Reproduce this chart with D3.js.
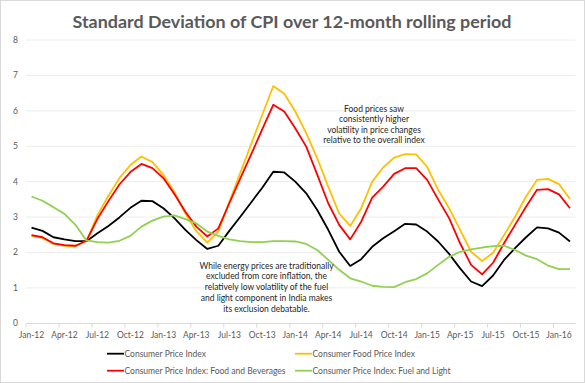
<!DOCTYPE html>
<html><head><meta charset="utf-8">
<script src="https://cdn.jsdelivr.net/npm/d3@7"></script>
<style>body{margin:0;background:#fff}svg{display:block}text{font-family:Lato,"Open Sans",sans-serif}</style>
</head><body><svg id="c" width="585" height="383"></svg>
<script>
const months = ["Jan-12","Feb-12","Mar-12","Apr-12","May-12","Jun-12","Jul-12","Aug-12","Sep-12","Oct-12","Nov-12","Dec-12",
"Jan-13","Feb-13","Mar-13","Apr-13","May-13","Jun-13","Jul-13","Aug-13","Sep-13","Oct-13","Nov-13","Dec-13",
"Jan-14","Feb-14","Mar-14","Apr-14","May-14","Jun-14","Jul-14","Aug-14","Sep-14","Oct-14","Nov-14","Dec-14",
"Jan-15","Feb-15","Mar-15","Apr-15","May-15","Jun-15","Jul-15","Aug-15","Sep-15","Oct-15","Nov-15","Dec-15",
"Jan-16","Feb-16"];
const cpi = [2.70,2.61,2.43,2.37,2.32,2.32,2.54,2.75,2.99,3.26,3.46,3.45,3.25,2.97,2.64,2.35,2.10,2.19,2.61,3.01,3.42,3.83,4.28,4.26,4.00,3.67,3.20,2.64,2.02,1.62,1.81,2.16,2.40,2.60,2.81,2.79,2.59,2.31,1.96,1.55,1.18,1.05,1.35,1.79,2.12,2.43,2.71,2.68,2.56,2.31];
const foodCpi = [2.47,2.41,2.24,2.19,2.17,2.33,3.05,3.60,4.10,4.47,4.71,4.55,4.19,3.70,3.10,2.60,2.28,2.59,3.43,4.25,5.07,5.89,6.70,6.48,5.98,5.37,4.66,3.86,3.10,2.75,3.25,4.00,4.40,4.68,4.78,4.77,4.42,3.77,3.25,2.64,2.02,1.76,1.99,2.49,3.01,3.58,4.05,4.08,3.93,3.51];
const foodBev = [2.49,2.43,2.26,2.21,2.19,2.33,2.95,3.45,3.92,4.27,4.50,4.38,4.10,3.65,3.15,2.73,2.45,2.68,3.39,4.09,4.78,5.48,6.17,5.98,5.51,4.99,4.20,3.39,2.78,2.37,2.87,3.55,3.86,4.22,4.38,4.38,4.05,3.50,2.97,2.26,1.65,1.38,1.71,2.26,2.78,3.29,3.77,3.79,3.64,3.25];
const fuel = [3.58,3.46,3.28,3.09,2.78,2.34,2.29,2.28,2.33,2.47,2.73,2.90,3.01,3.05,2.94,2.82,2.59,2.47,2.37,2.32,2.29,2.29,2.32,2.32,2.31,2.24,2.07,1.79,1.51,1.27,1.18,1.06,1.03,1.02,1.16,1.25,1.41,1.65,1.88,2.02,2.09,2.14,2.18,2.19,2.07,1.91,1.81,1.63,1.53,1.53];
const yTicks = [0,1,2,3,4,5,6,7,8];
const seriesNames = ["Consumer Price Index","Consumer Food Price Index","Consumer Price Index: Food and Beverages","Consumer Price Index: Fuel and Light"];
const seriesColors = ["#000000","#FFC000","#FF0000","#92D050"];
const title = "Standard Deviation of CPI over 12-month rolling period";
const note1 = ["Food prices saw","consistently higher","volatility in price changes","relative to the overall index"];
const note2 = ["While energy prices are traditionally","excluded from core inflation, the","relatively low volatility of the fuel","and light component in India makes","its exclusion debatable."];

const svg = d3.select("#c");
svg.append("rect").attr("x",0.5).attr("y",0.5).attr("width",584).attr("height",382).attr("fill","#fff").attr("stroke","#d9d9d9");

const x = d3.scaleBand().domain(months).range([26,575.5]);
const y = d3.scaleLinear().domain([0,8]).range([323.3,40]);
const cx = m => x(m)+x.bandwidth()/2;

// gridlines
svg.append("g").selectAll("line").data(yTicks.filter(d=>d>0)).join("line")
  .attr("x1",26).attr("x2",575.5).attr("y1",d=>y(d)).attr("y2",d=>y(d))
  .attr("stroke","#ececec").attr("stroke-width",1);

// y labels
svg.append("g").selectAll("text").data(yTicks).join("text")
  .attr("x",18).attr("y",d=>y(d)+3).attr("text-anchor","end")
  .attr("font-size",8.5).attr("fill","#595959").text(d=>d);

// x axis
const xa = svg.append("g");
xa.append("line").attr("x1",26).attr("x2",575.5).attr("y1",323.5).attr("y2",323.5).attr("stroke","#d9d9d9");
const tickIdx = d3.range(0,months.length+1,3);
xa.selectAll("line.t").data(tickIdx).join("line").attr("class","t")
  .attr("x1",i=>26+i*x.step()).attr("x2",i=>26+i*x.step()).attr("y1",323.5).attr("y2",327.5).attr("stroke","#d9d9d9");
xa.selectAll("text").data(months.filter((m,i)=>i%3===0)).join("text")
  .attr("x",m=>cx(m)).attr("y",338).attr("text-anchor","middle")
  .attr("font-size",8.5).attr("fill","#595959").text(m=>m);

// lines
const allSeries = [cpi, foodCpi, foodBev, fuel];
const line = d3.line().x((d,i)=>cx(months[i])).y(d=>y(d));
allSeries.forEach((s,k)=>{
  svg.append("path").datum(s).attr("d",line).attr("fill","none")
    .attr("stroke",seriesColors[k]).attr("stroke-width",1.8).attr("stroke-linejoin","round");
});

// title
svg.append("text").attr("x",292).attr("y",28).attr("text-anchor","middle")
  .attr("font-size",17.9).attr("font-weight","bold").attr("fill","#595959").text(title);

// notes
svg.append("g").selectAll("text").data(note1).join("text")
  .attr("x",374).attr("y",(d,i)=>111.5+i*10.6).attr("text-anchor","middle")
  .attr("font-size",8.5).attr("fill","#262626").text(d=>d);
svg.append("g").selectAll("text").data(note2).join("text")
  .attr("x",266.5).attr("y",(d,i)=>268.5+i*10.8).attr("text-anchor","middle")
  .attr("font-size",8.5).attr("fill","#262626").text(d=>d);

// legend
const legPos = [[107,353.7],[295,353.7],[107,370.7],[295,370.7]];
seriesNames.forEach((n,k)=>{
  const [lx,ly] = legPos[k];
  svg.append("line").attr("x1",lx).attr("x2",lx+17).attr("y1",ly).attr("y2",ly)
    .attr("stroke",seriesColors[k]).attr("stroke-width",1.8);
  svg.append("text").attr("x",lx+17.5).attr("y",ly+3).attr("font-size",8.5).attr("fill","#595959").text(n);
});
</script></body></html>
